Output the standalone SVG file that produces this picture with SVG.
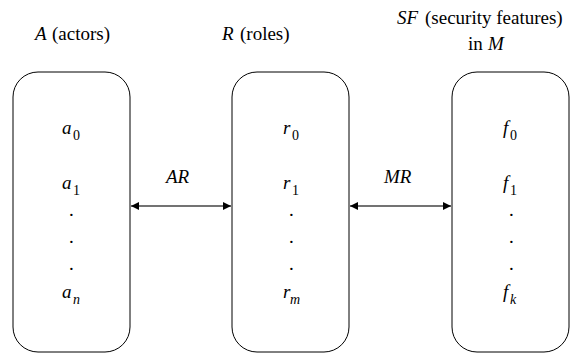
<svg xmlns="http://www.w3.org/2000/svg" width="585" height="356" viewBox="0 0 585 356">
  <style>
    .t { font-family: Liberation Serif, serif; font-size: 19px; }
    .v { font-family: Liberation Serif, serif; font-size: 19px; font-style: italic; }
    .s { font-family: Liberation Serif, serif; font-size: 14px; }
    .si { font-family: Liberation Serif, serif; font-size: 14px; font-style: italic; }
    .box { fill: #fff; stroke: #000; stroke-width: 1; }
    .conn { stroke: #444; stroke-width: 1.5; fill: none; }
  </style>
  <defs>
    <marker id="ah" viewBox="0 0 10 10" refX="10" refY="5" markerWidth="13" markerHeight="8" markerUnits="userSpaceOnUse" orient="auto-start-reverse">
      <path d="M0,0 L10,5 L0,10 z" fill="#000"/>
    </marker>
  </defs>
  <rect width="585" height="356" fill="#fff"/>

  <!-- actors -->
  <g id="actors">
    <text x="35" y="40" class="v">A</text><text x="52" y="40" class="t">(actors)</text>
    <rect class="box" x="13" y="72" width="117" height="280" rx="25" ry="25"/>
    <text x="62" y="134" class="v">a</text><text x="73" y="140" class="s">0</text>
    <text x="62" y="189" class="v">a</text><text x="73" y="195" class="s">1</text>
    <text x="69" y="216" class="t">.</text>
    <text x="69" y="243" class="t">.</text>
    <text x="69" y="270" class="t">.</text>
    <text x="62" y="298" class="v">a</text><text x="73" y="304" class="si">n</text>
  </g>

  <!-- roles -->
  <g id="roles">
    <text x="222" y="40" class="v">R</text><text x="240" y="40" class="t">(roles)</text>
    <rect class="box" x="232" y="72" width="117" height="280" rx="25" ry="25"/>
    <text x="283" y="134" class="v">r</text><text x="292" y="140" class="s">0</text>
    <text x="283" y="189" class="v">r</text><text x="292" y="195" class="s">1</text>
    <text x="289" y="216" class="t">.</text>
    <text x="289" y="243" class="t">.</text>
    <text x="289" y="270" class="t">.</text>
    <text x="283" y="298" class="v">r</text><text x="290" y="304" class="si">m</text>
  </g>

  <!-- security features -->
  <g id="features">
    <text x="397" y="24" class="v">SF</text><text x="425" y="24" class="t">(security features)</text>
    <text x="468" y="50" class="t">in</text><text x="488" y="50" class="v">M</text>
    <rect class="box" x="452" y="72" width="117" height="280" rx="25" ry="25"/>
    <text x="503" y="134" class="v">f</text><text x="510" y="140" class="s">0</text>
    <text x="503" y="189" class="v">f</text><text x="510" y="195" class="s">1</text>
    <text x="509" y="216" class="t">.</text>
    <text x="509" y="243" class="t">.</text>
    <text x="509" y="270" class="t">.</text>
    <text x="503" y="298" class="v">f</text><text x="510" y="304" class="si">k</text>
  </g>

  <!-- relations -->
  <g id="connectors">
    <line class="conn" x1="131" y1="206" x2="231" y2="206" marker-start="url(#ah)" marker-end="url(#ah)"/>
    <line class="conn" x1="350" y1="206" x2="451" y2="206" marker-start="url(#ah)" marker-end="url(#ah)"/>
    <text x="166" y="183" class="v">AR</text>
    <text x="384" y="183" class="v">MR</text>
  </g>
</svg>
